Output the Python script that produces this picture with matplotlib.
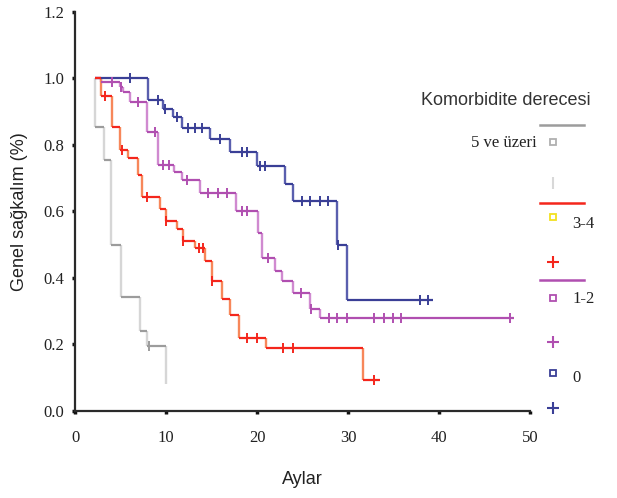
import numpy as np
import matplotlib
matplotlib.use("Agg")
import matplotlib.pyplot as plt
from matplotlib.lines import Line2D

# ---------------- data ----------------
groups = ["5 ve üzeri", "3-4", "1-2", "0"]

start_t = 2.2

g_times = [2.2, 3.2, 4.0, 5.1, 7.1, 7.9, 10.0]
g_surv = [0.854, 0.755, 0.50, 0.343, 0.24, 0.195, 0.08]
g_cens = [8.1]
g_end = 10.0

r_times = [2.8, 4.1, 4.9, 5.8, 6.9, 7.4, 9.3, 10.0, 11.2, 11.9, 13.2, 14.3,
           15.1, 16.2, 17.0, 18.0, 21.0, 31.6]
r_surv = [0.946, 0.854, 0.785, 0.76, 0.71, 0.645, 0.606, 0.57, 0.546, 0.51,
          0.49, 0.45, 0.39, 0.337, 0.29, 0.22, 0.188, 0.092]
r_cens = [3.3, 5.2, 7.9, 10.0, 11.9, 13.6, 14.1, 15.1, 18.9, 20.0, 22.9, 24.0, 32.9]
r_end = 33.5

p_times = [2.9, 4.9, 5.3, 6.0, 7.9, 9.1, 10.9, 11.8, 13.7, 17.7, 20.1, 20.5,
           22.0, 22.7, 23.9, 25.8, 26.9]
p_surv = [0.99, 0.975, 0.96, 0.93, 0.84, 0.74, 0.72, 0.695, 0.655, 0.60,
          0.534, 0.46, 0.42, 0.39, 0.355, 0.307, 0.28]
p_cens = [4.1, 5.0, 6.9, 8.8, 9.7, 10.3, 12.3, 14.6, 15.7, 16.7, 18.3, 18.9,
          21.2, 24.8, 25.9, 27.9, 28.8, 29.9, 32.9, 33.9, 34.9, 35.8, 47.8]
p_end = 48.2

b_times = [8.0, 9.7, 10.8, 11.8, 14.8, 17.0, 20.0, 23.1, 24.0, 28.8, 29.9]
b_surv = [0.935, 0.907, 0.884, 0.85, 0.818, 0.78, 0.737, 0.684, 0.63, 0.50, 0.334]
b_cens = [6.0, 9.1, 9.9, 11.2, 12.4, 13.2, 14.0, 15.9, 18.4, 18.9, 20.3, 20.9,
          24.9, 25.8, 26.9, 27.8, 28.9, 37.9, 38.8]
b_end = 39.3

x_ticks = [0, 10, 20, 30, 40, 50]
y_ticks = [0.0, 0.2, 0.4, 0.6, 0.8, 1.0, 1.2]

# ---------------- styles ----------------
styles = {
    "5 ve üzeri": dict(h="#9c9c9c", v="#d6d6d6"),
    "3-4": dict(h="#f4261c", v="#f7875a"),
    "1-2": dict(h="#b04fb0", v="#d08ad0"),
    "0": dict(h="#3a3f96", v="#5a5fae"),
}

SERIF = ["Liberation Serif", "DejaVu Serif"]
SANS = ["Liberation Sans", "DejaVu Sans"]

fig = plt.figure(figsize=(6.17, 4.98), dpi=100)
ax = fig.add_axes([0.1216, 0.1747, 0.7374, 0.8013])


def draw_km(ax, times, surv, cens, end, st):
    t = np.array([start_t] + list(times) + [end])
    s = np.array([1.0] + list(surv))
    # horizontal segments
    ax.hlines(s, t[:-1], t[1:], colors=st["h"], lw=1.6, zorder=3)
    # vertical drops
    prev = np.array([1.0] + list(surv[:-1]))
    ax.vlines(times, surv, prev, colors=st["v"], lw=1.7, zorder=2)
    # censor marks
    tt = np.array([start_t] + list(times))
    idx = np.searchsorted(tt, cens, side="right") - 1
    cy = s[idx]
    ax.plot(cens, cy, ls="none", marker="|", ms=7, mew=1.4,
            color=st["h"], zorder=4)


draw_km(ax, b_times, b_surv, b_cens, b_end, styles["0"])
draw_km(ax, p_times, p_surv, p_cens, p_end, styles["1-2"])
draw_km(ax, r_times, r_surv, r_cens, r_end, styles["3-4"])
draw_km(ax, g_times, g_surv, g_cens, g_end, styles["5 ve üzeri"])

ax.set_xlim(0, 50)
ax.set_ylim(0, 1.2)
ax.set_xticks(x_ticks)
ax.set_yticks(y_ticks)
ax.set_xticklabels([str(v) for v in x_ticks], family=SERIF, fontsize=12)
ax.set_yticklabels([f"{v:.1f}" for v in y_ticks], family=SERIF, fontsize=12)
for sp in ["top", "right"]:
    ax.spines[sp].set_visible(False)
for sp in ["left", "bottom"]:
    ax.spines[sp].set_linewidth(1.6)
    ax.spines[sp].set_color("#2a2a2a")
ax.tick_params(direction="out", length=2.5, width=2.5, color="#111111",
               pad=5, labelcolor="#222222")
ax.tick_params(axis="x", pad=11)
ax.set_xlabel("Aylar", family=SANS, fontsize=13, color="#222222", labelpad=18)
ax.set_ylabel("Genel sağkalım (%)", family=SANS, fontsize=13, color="#222222",
              labelpad=11)

# ---------------- legend (drawn manually in pixel coordinates) ----------------
W, H = 617.0, 498.0


def fx(x):
    return x / W


def fy(y):
    return 1 - y / H


fig.text(fx(421), fy(100), "Komorbidite derecesi", family=SANS, fontsize=13,
         color="#333333", va="center", ha="left")

leg_rows = [
    ("5 ve üzeri", 125, 142, "#b0b0b0", 183, "|", "#d8d8d8", 537, 143, "right"),
    ("3-4", 203, 217, "#f2e020", 262, "+", "#f4261c", 572, 224, "left"),
    ("1-2", 280, 298, "#b04fb0", 342, "+", "#b04fb0", 572, 299, "left"),
    ("0", None, 373, "#3a3f96", 408, "+", "#3a3f96", 572, 378, "left"),
]

for grp, ly, sy, sc, cy, cm, cc, lx, lyy, ha in leg_rows:
    if ly is not None:
        fig.add_artist(Line2D([fx(540), fx(584)], [fy(ly), fy(ly)],
                              color=styles[grp]["h"], lw=1.8,
                              transform=fig.transFigure))
    fig.add_artist(Line2D([fx(553)], [fy(sy)], marker="s", ms=4,
                          mfc="white", mec=sc, mew=1.3, ls="none",
                          transform=fig.transFigure))
    fig.add_artist(Line2D([fx(553)], [fy(cy)], marker=cm, ms=8,
                          mec=cc, mew=1.5, ls="none",
                          transform=fig.transFigure))
    fig.text(fx(lx), fy(lyy), grp, family=SERIF, fontsize=12, color="#222222",
             va="center", ha=ha)

fig.savefig("out.png", dpi=100)
